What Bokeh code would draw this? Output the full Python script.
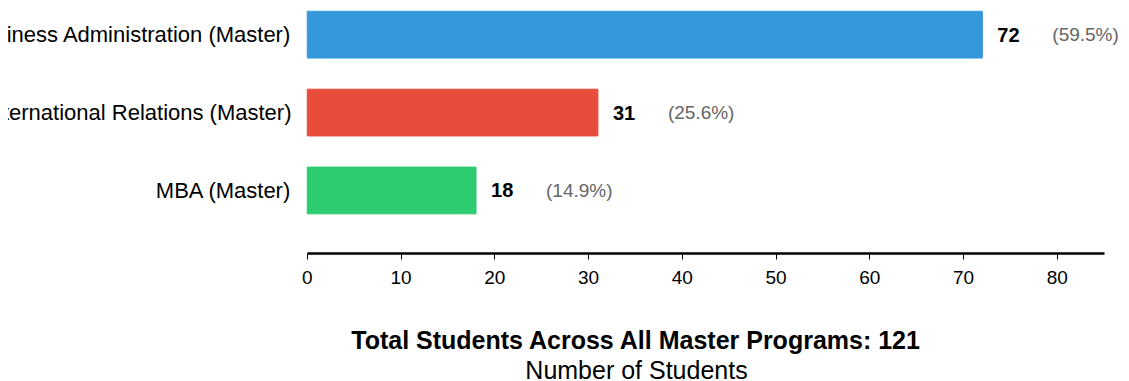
from bokeh.plotting import figure
from bokeh.models import ColumnDataSource, LabelSet, Label, FixedTicker, Range1d
from bokeh.core.properties import value
from bokeh.embed import file_html
from bokeh.resources import INLINE

# ---- data ----
categories = [
    "Business Administration (Master)",
    "International Relations (Master)",
    "MBA (Master)",
]
counts = [72, 31, 18]
colors = ["#3498db", "#e74c3c", "#2ecc71"]
x_ticks = [0, 10, 20, 30, 40, 50, 60, 70, 80]

total = sum(counts)
pct_labels = [f"({c / total * 100:.1f}%)" for c in counts]
count_labels = [str(c) for c in counts]
n = len(categories)
ypos = [n - 1 - i for i in range(n)]

FONT = "Liberation Sans"

src = ColumnDataSource(dict(
    y=ypos, count=counts, color=colors, cat=categories,
    clabel=count_labels, plabel=pct_labels,
))

p = figure(
    frame_width=837, frame_height=373,
    x_range=Range1d(-2.0, 87.27), y_range=Range1d(-2.452, 2.336),
    output_backend="svg", toolbar_location=None,
    min_border_left=340, min_border_top=0,
    min_border_right=0, min_border_bottom=0,
)
p.margin = (8, 0, -60, -52)
# the long category names are cut at the page edge, as in the reference
p.styles = {"clip-path": "inset(0px 0px 0px 60px)"}
p.outline_line_color = None
p.xgrid.visible = False
p.ygrid.visible = False
p.background_fill_color = "white"
p.border_fill_color = "white"

p.hbar(y="y", left=0, right="count", height=0.6, fill_color="color",
       line_color="color", source=src)

# x axis (spine placed below the bars, limited to 0..85)
xa = p.xaxis[0]
xa.fixed_location = -0.81
xa.bounds = (0, 85)
xa.ticker = FixedTicker(ticks=x_ticks)
xa.axis_line_width = 2.5
xa.axis_line_color = "black"
xa.major_tick_out = 6
xa.major_tick_in = 0
xa.major_tick_line_color = "black"
xa.minor_tick_line_color = None
xa.major_label_text_font = FONT
xa.major_label_text_font_size = "19px"
xa.major_label_text_color = "black"
xa.major_label_standoff = 11

# y axis
ya = p.yaxis[0]
ya.ticker = FixedTicker(ticks=ypos)
ya.major_label_overrides = {y: c for y, c in zip(ypos, categories)}
ya.axis_line_color = None
ya.major_tick_line_color = None
ya.minor_tick_line_color = None
ya.major_tick_out = 0
ya.major_tick_in = 0
ya.major_label_standoff = -3
ya.major_label_text_font = FONT
ya.major_label_text_font_size = "22px"
ya.major_label_text_color = "black"

# value labels
p.add_layout(LabelSet(x="count", y="y", text="clabel", source=src,
                      x_offset=15, text_baseline="middle", text_align="left",
                      text_font=value(FONT), text_font_size=value("20px"),
                      text_font_style="bold", text_color="black"))
p.add_layout(LabelSet(x="count", y="y", text="plabel", source=src,
                      x_offset=70, text_baseline="middle", text_align="left",
                      text_font=value(FONT), text_font_size=value("19px"),
                      text_color="#666666"))

# axis titles (centered as in the reference)
p.add_layout(Label(x=348, y=42, x_units="screen", y_units="screen",
                   text=f"Total Students Across All Master Programs: {total}",
                   text_align="center", text_baseline="alphabetic",
                   text_font=FONT, text_font_size="25px",
                   text_font_style="bold", text_color="black"))
p.add_layout(Label(x=348, y=12, x_units="screen", y_units="screen",
                   text="Number of Students",
                   text_align="center", text_baseline="alphabetic",
                   text_font=FONT, text_font_size="25px",
                   text_color="black"))

open("out.html", "w").write(file_html(p, INLINE))
